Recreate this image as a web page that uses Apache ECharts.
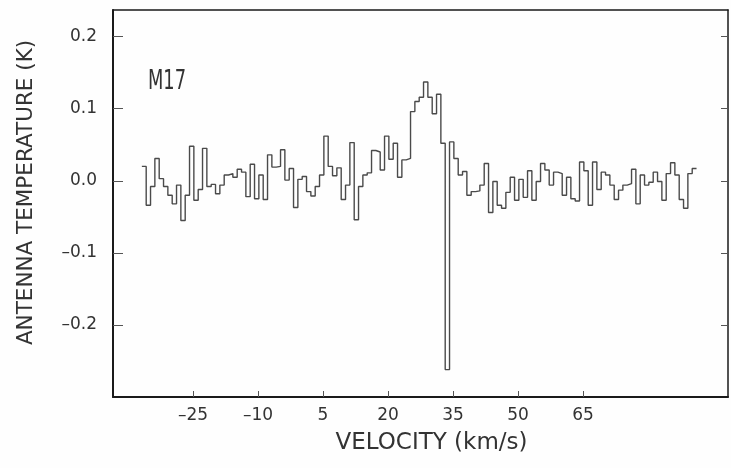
<!DOCTYPE html>
<html>
<head>
<meta charset="utf-8">
<script src="https://cdn.jsdelivr.net/npm/echarts@6/dist/echarts.min.js"></script>
<style>
html,body{margin:0;padding:0;background:#fefefe;}
#chart{width:731px;height:468px;}
</style>
</head>
<body>
<div id="chart"></div>
<script>
// Spectrum channel grid (km/s): left edge of first channel and channel width
const channelStart = -36.8;
const channelWidth = 1.0;

// Antenna temperature per channel (K)
const temps = [
  0.020, -0.034, -0.008, 0.031, 0.003, -0.008, -0.020, -0.032, -0.006, -0.055,
  -0.020, 0.048, -0.027, -0.012, 0.045, -0.008, -0.005, -0.018, -0.006, 0.008,
  0.010, 0.005, 0.016, 0.012, -0.022, 0.023, -0.025, 0.008, -0.026, 0.036,
  0.019, 0.020, 0.043, 0.001, 0.017, -0.037, 0.002, 0.006, -0.015, -0.021,
  -0.008, 0.008, 0.062, 0.020, 0.007, 0.018, -0.026, -0.006, 0.053, -0.054,
  -0.008, 0.008, 0.011, 0.042, 0.040, 0.015, 0.062, 0.030, 0.052, 0.005,
  0.029, 0.031, 0.096, 0.110, 0.116, 0.137, 0.116, 0.093, 0.120, 0.052,
  -0.262, 0.054, 0.031, 0.008, 0.013, -0.020, -0.015, -0.014, -0.006, 0.024,
  -0.044, -0.001, -0.034, -0.038, -0.016, 0.005, -0.027, 0.002, -0.023, 0.014,
  -0.027, -0.001, 0.024, 0.015, -0.006, 0.012, 0.010, -0.020, 0.005, -0.025,
  -0.028, 0.026, 0.014, -0.034, 0.026, -0.012, 0.012, 0.008, -0.006, -0.026,
  -0.013, -0.006, -0.004, 0.016, -0.032, 0.008, -0.006, -0.002, 0.012, -0.001,
  -0.027, 0.010, 0.025, 0.008, -0.026, -0.038, 0.010, 0.017
];

const xTicks = [-25, -10, 5, 20, 35, 50, 65];
const yTicks = [-0.2, -0.1, 0.0, 0.1, 0.2];
const sourceLabel = 'M17';

const points = temps.map((t, i) => [channelStart + i * channelWidth, t]);
points.push([channelStart + temps.length * channelWidth, temps[temps.length - 1]]);

const FONT = 'DejaVu Sans';
const fmtY = v => (v < 0 ? '\u2013' : '') + Math.abs(v).toFixed(1);
const fmtX = v => (v < 0 ? '\u2013' : '') + Math.abs(v);

const chart = echarts.init(document.getElementById('chart'), null, {renderer: 'canvas'});
chart.setOption({
  backgroundColor: '#fefefe',
  animation: false,
  grid: {left: 113, right: 3, top: 10, bottom: 71},
  xAxis: [{
    type: 'value', min: -43.46, max: 98.46, position: 'bottom',
    axisLine: {show: true, onZero: false, lineStyle: {color: '#1a1a1a', width: 2}},
    axisTick: {show: true, inside: true, length: 6, customValues: xTicks, lineStyle: {color: '#555', width: 1}},
    axisLabel: {customValues: xTicks, formatter: fmtX, fontFamily: FONT, fontSize: 17, color: '#333', margin: 10},
    splitLine: {show: false},
    name: 'VELOCITY (km/s)', nameLocation: 'middle', nameGap: 35,
    nameTextStyle: {fontFamily: FONT, fontSize: 23, color: '#333', padding: [0, 0, 0, 22]}
  }, {
    type: 'value', min: -43.46, max: 98.46, position: 'top',
    axisLine: {show: true, onZero: false, lineStyle: {color: '#1a1a1a', width: 1.5}},
    axisTick: {show: false}, axisLabel: {show: false}, splitLine: {show: false}
  }],
  yAxis: [{
    type: 'value', min: -0.3, max: 0.237, position: 'left',
    axisLine: {show: true, onZero: false, lineStyle: {color: '#1a1a1a', width: 2}},
    axisTick: {show: true, inside: true, length: 10, customValues: yTicks, lineStyle: {color: '#555', width: 1}},
    axisLabel: {customValues: yTicks, formatter: fmtY, fontFamily: FONT, fontSize: 17, color: '#333', margin: 16},
    splitLine: {show: false},
    name: 'ANTENNA TEMPERATURE (K)', nameLocation: 'middle', nameGap: 76,
    nameTextStyle: {fontFamily: FONT, fontSize: 21.5, color: '#333', padding: [0, 0, 0, 22]}
  }, {
    type: 'value', min: -0.3, max: 0.237, position: 'right',
    axisLine: {show: true, onZero: false, lineStyle: {color: '#1a1a1a', width: 1.5}},
    axisTick: {show: true, inside: true, length: 7, customValues: yTicks, lineStyle: {color: '#555', width: 1}},
    axisLabel: {show: false}, splitLine: {show: false}
  }],
  graphic: [{
    type: 'text', x: 148, y: 68, scaleX: 0.66,
    style: {text: sourceLabel, fontFamily: FONT, fontSize: 27, fill: '#333'}
  }],
  series: [{
    type: 'line', step: 'end', data: points, symbol: 'none',
    xAxisIndex: 0, yAxisIndex: 0,
    lineStyle: {color: '#4a4a4a', width: 1.4}
  }]
});
</script>
</body>
</html>
